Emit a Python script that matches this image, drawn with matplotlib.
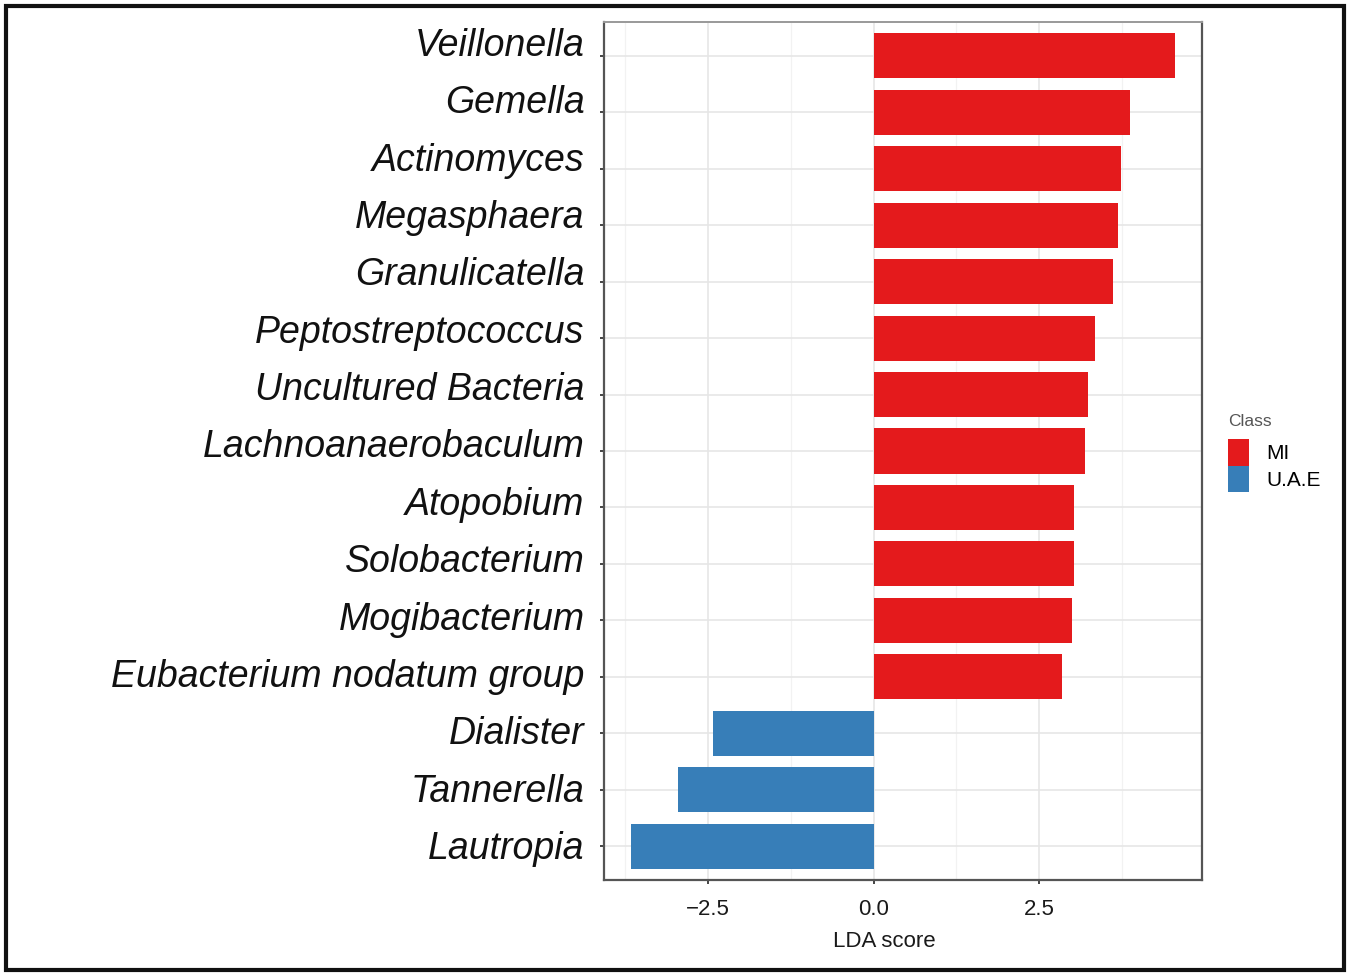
import matplotlib
matplotlib.use("Agg")
import matplotlib.pyplot as plt
from matplotlib.patches import Patch, Rectangle
import numpy as np

plt.rcParams['font.family'] = ['Liberation Sans', 'DejaVu Sans']

taxa = ["Veillonella", "Gemella", "Actinomyces", "Megasphaera", "Granulicatella",
        "Peptostreptococcus", "Uncultured Bacteria", "Lachnoanaerobaculum",
        "Atopobium", "Solobacterium", "Mogibacterium", "Eubacterium nodatum group",
        "Dialister", "Tannerella", "Lautropia"]
lda = [4.55, 3.87, 3.74, 3.69, 3.62, 3.35, 3.24, 3.20, 3.03, 3.03, 3.00, 2.85,
       -2.42, -2.96, -3.66]
cls = ["MI"] * 12 + ["U.A.E"] * 3
class_colors = {"MI": "#E41A1C", "U.A.E": "#377EB8"}
xticks = [-2.5, 0.0, 2.5]
xtick_labels = ["\u22122.5", "0.0", "2.5"]

W, H = 1350, 977
fig = plt.figure(figsize=(W / 100, H / 100), dpi=100)
rect = [604 / W, 1 - 880 / H, (1202 - 604) / W, (880 - 22) / H]
ax = fig.add_axes(rect)

n = len(taxa)
ypos = np.arange(n)[::-1]
ax.barh(ypos, lda, height=0.8, color=[class_colors[c] for c in cls], zorder=3)

span = max(lda) - min(lda)
ax.set_xlim(min(lda) - 0.05 * span, max(lda) + 0.05 * span)
ax.set_ylim(-0.6, n - 0.4)

ax.set_xticks(xticks)
ax.set_xticklabels(xtick_labels, fontsize=16, color="#1a1a1a")
ax.set_xticks([-3.75, -1.25, 1.25, 3.75], minor=True)
ax.set_yticks(ypos)
ax.set_yticklabels([])
ax.tick_params(axis="both", which="major", length=3, width=1.4, color="#444444")
ax.tick_params(axis="x", which="minor", length=0)
ax.tick_params(axis="x", pad=11)

ax.grid(True, which="major", color="#E6E6E6", linewidth=1.2, zorder=0)
ax.grid(True, which="minor", axis="x", color="#F2F2F2", linewidth=0.9, zorder=0)
ax.set_axisbelow(True)

for side in ["left", "bottom", "right"]:
    ax.spines[side].set_color("#555555")
    ax.spines[side].set_linewidth(1.6)
ax.spines["top"].set_color("#999999")
ax.spines["top"].set_linewidth(1.4)

ax.set_xlabel("LDA score", fontsize=16, color="#1a1a1a")
ax.xaxis.set_label_coords((884 - 604) / (1202 - 604), -0.059)

# label axis (same panel, labels only)
lab = fig.add_axes(rect, frameon=False)
lab.patch.set_visible(False)
lab.set_xticks([])
lab.set_ylim(-0.61, -0.61 + 858 / 57.36)
lab.set_yticks(ypos)
lab.set_yticklabels(taxa, fontsize=27, style="italic", color="#111111")
lab.tick_params(axis="y", length=0, pad=14)

handles = [Patch(facecolor=class_colors[k], edgecolor="none", label=k) for k in ["MI", "U.A.E"]]
leg = fig.legend(handles=handles, loc="upper left",
                 bbox_to_anchor=(1228 / W, 1 - 439 / H), frameon=False,
                 fontsize=15, handlelength=1.0, handleheight=1.58,
                 labelspacing=0.0, handletextpad=0.82, borderpad=0.0,
                 borderaxespad=0.0)
fig.text(1228 / W, 1 - 421 / H, "Class", fontsize=12.5, color="#555555",
         ha="left", va="center")

fig.patches.append(Rectangle((6 / W, 1 - 970 / H), (1344 - 6) / W, (970 - 6) / H,
                             transform=fig.transFigure, fill=False,
                             edgecolor="#111111", linewidth=3))

fig.savefig("out.png", dpi=100)
